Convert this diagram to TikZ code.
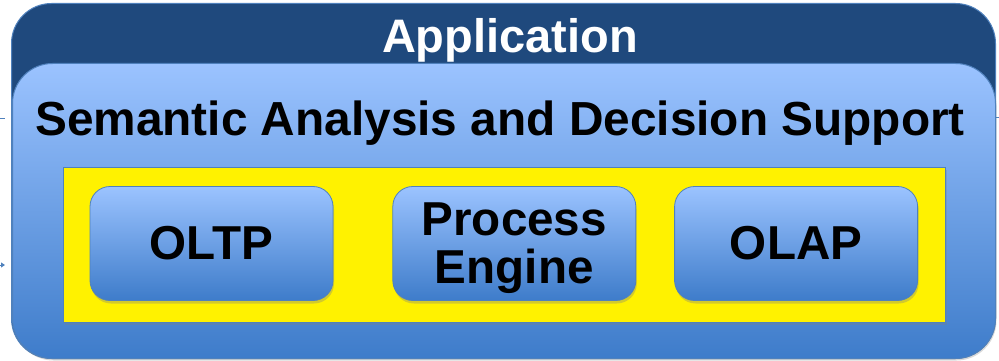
\documentclass[tikz,border=0pt]{standalone}
\usepackage{fontspec}
\setmainfont{Liberation Sans}
\usetikzlibrary{shapes,arrows.meta,positioning,shadows}
\definecolor{appblue}{RGB}{31,73,125}
\definecolor{edgeblue}{RGB}{79,129,189}
\definecolor{lightblue}{RGB}{155,195,255}
\definecolor{deepblue}{RGB}{62,124,202}

\begin{document}
\begin{tikzpicture}[x=1pt,y=-1pt]
\tikzset{layer/.style={rectangle,rounded corners=40pt,draw=edgeblue,line width=1pt,inner sep=0pt,anchor=north west},
 module/.style={rectangle,rounded corners=20pt,draw=edgeblue,line width=0.8pt,top color=lightblue,bottom color=deepblue,minimum width=243pt,minimum height=114pt,inner sep=0pt,align=center,font=\bfseries\fontsize{47.6}{48}\selectfont,drop shadow={shadow xshift=1pt,shadow yshift=-3pt,opacity=0.35}},
 heading/.style={font=\bfseries\fontsize{47.8}{48}\selectfont,anchor=base,inner sep=0pt}}
\useasboundingbox (0,0) rectangle (999,361);
\node[layer,fill=appblue,minimum width=984pt,minimum height=355pt](app) at (11,3){};
\node[layer,top color=lightblue,bottom color=deepblue,minimum width=983pt,minimum height=295pt,drop shadow={shadow xshift=1pt,shadow yshift=-2pt,opacity=0.3}](sem) at (12,63){};
\node[heading,text=white,font=\bfseries\fontsize{47}{48}\selectfont](apptitle) at (510,53){Application};
\node[heading](semtitle) at (500,135){Semantic Analysis and Decision Support};
\node[rectangle,draw=edgeblue,line width=0.8pt,fill=yellow,anchor=north west,minimum width=882pt,minimum height=155pt,inner sep=0pt,drop shadow={shadow xshift=2pt,shadow yshift=-3pt,opacity=0.3}](core) at (63,167){};
\node[module](oltp) at (211.5,243.5){OLTP};
\node[module](proc)[right=59pt of oltp]{\rule{0pt}{42pt}Process\\Engine};
\node[module](olap)[right=38pt of proc]{OLAP};
% stubs of outside connectors
\coordinate (inl) at (0,118);
\coordinate (inr) at (999,117);
\coordinate (ina) at (0,265);
\draw[edgeblue,line width=1pt](inl) -- ++(5,0);
\draw[edgeblue,line width=1pt](inr) -- ++(-4,0);
\draw[edgeblue,line width=1pt,-{Triangle[length=4pt,width=5pt]}](ina) -- ++(5,0);
\end{tikzpicture}
\end{document}
